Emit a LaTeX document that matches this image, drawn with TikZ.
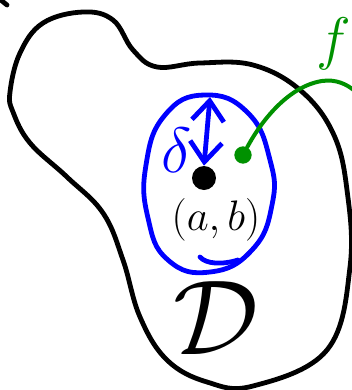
\RequirePackage{fix-cm}
\documentclass[tikz,border=0pt]{standalone}
\usepackage{amsmath}
\usetikzlibrary{arrows.meta,positioning}
\definecolor{PenBlue}{RGB}{0,0,255}
\definecolor{PenGreen}{RGB}{0,145,0}
\definecolor{PenBlack}{RGB}{0,0,0}

\begin{document}
\begin{tikzpicture}[
    x=0.75pt, y=-0.75pt,
    pen/.style={line width=3.6pt, line cap=round, line join=round},
    ink/.style={pen, draw=PenBlack},
    blueink/.style={pen, draw=PenBlue},
    greenink/.style={line width=3pt, line cap=round, draw=PenGreen},
    arrow/.style={{Straight Barb[length=15pt,width=24pt]}-{Straight Barb[length=15pt,width=24pt]}, blueink},
    dot/.style={circle, inner sep=0pt, minimum size=#1}
  ]
    \useasboundingbox (0,0) rectangle (351,390);

    % region D
    \draw[ink] plot[smooth cycle, tension=0.65] coordinates {
      (10,92) (20,53) (43,23) (83,12) (113,20) (133,50) (157,67)
      (200,63) (253,65) (300,90) (333,133) (347,190) (350,267)
      (327,350) (253,386) (207,382) (167,360) (140,317) (123,260)
      (103,213) (67,177) (30,143) (13,112)};
    \draw[ink] (-3,-3) -- (7,5);

    % neighbourhood of radius delta
    \draw[blueink] plot[smooth cycle, tension=0.8] coordinates {
      (205,95) (248,113) (270,160) (272,205) (252,250) (210,272)
      (168,260) (148,218) (146,165) (165,115)};
    \draw[blueink] (200,257) .. controls (206,264) and (222,265) .. (238,260);

    \node[dot=18pt, fill=PenBlack] (pt) at (204,178) {};
    \coordinate (rim) at (210,97);
    \draw[arrow] (pt.north) -- (rim);

    \node[dot=13pt, fill=PenGreen] (gdot) at (243,155) {};
    \coordinate (fend) at (356,92);
    \draw[greenink] (gdot) .. controls (263,118) and (290,86) .. (322,81)
      .. controls (336,79) and (347,84) .. (fend);

    \node[text=PenBlue, font=\fontsize{48}{54}\selectfont] (delta) at (177,150) {$\delta$};
    \node[text=PenBlack, font=\fontsize{32}{38}\selectfont] (ab) at (216,220) {$(a,b)$};
    \node[text=PenBlack, font=\fontsize{80}{86}\selectfont] (dom) at (216,318) {$\mathcal{D}$};
    \node[text=PenGreen, font=\fontsize{44}{50}\selectfont] (fname) at (334,44) {$f$};
  \end{tikzpicture}
\end{document}
